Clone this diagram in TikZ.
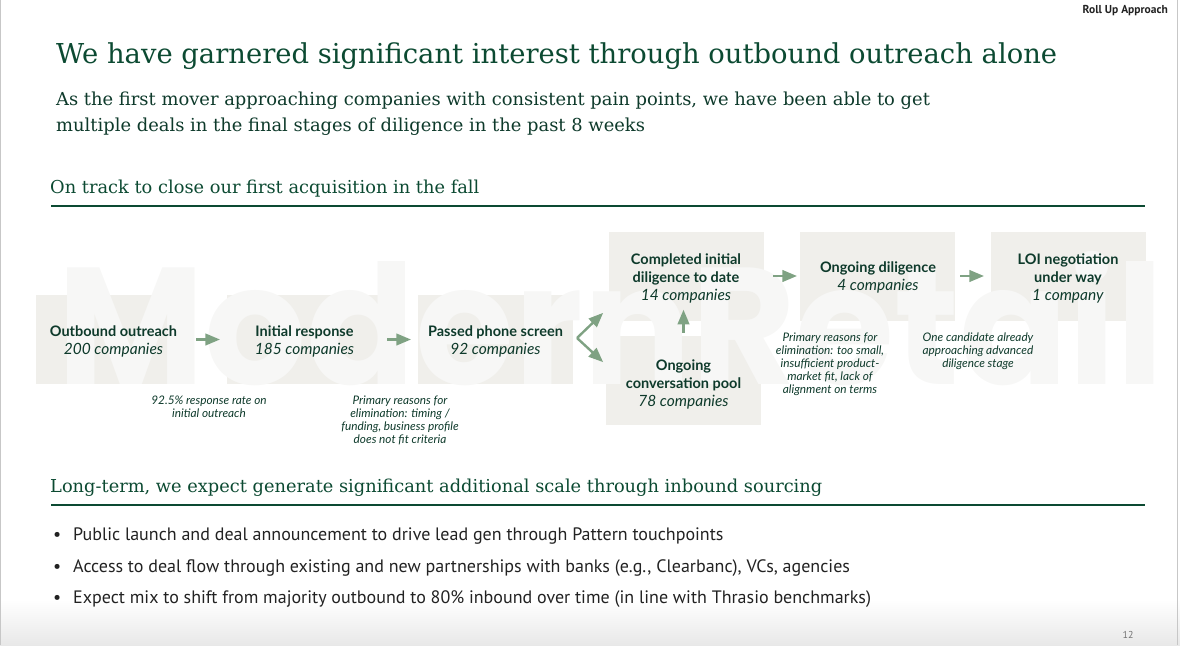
\documentclass[tikz,border=0pt]{standalone}
\usepackage{fontspec}
\setmainfont{DejaVu Serif}
\newfontfamily\flowfont{Lato}
\newfontfamily\bulletfont{PT Sans}
\newfontfamily\wmfont{Poppins}
\usetikzlibrary{arrows}
\definecolor{deepgreen}{HTML}{0C4A32}
\definecolor{inkgreen}{HTML}{0E3A2B}
\definecolor{sage}{HTML}{7FA283}
\definecolor{boxfill}{HTML}{F0EFEB}
\definecolor{wmgray}{HTML}{F7F7F6}
\definecolor{ink}{HTML}{222222}

\begin{document}
\begin{tikzpicture}[x=1pt,y=-1pt,
  stagebox/.style={fill=boxfill,minimum width=155pt,minimum height=89pt,inner sep=0pt},
  stage/.style={align=center,text=inkgreen,inner sep=0pt,font=\flowfont\fontsize{14.5}{18}\selectfont},
  note/.style={align=center,text=inkgreen,inner sep=0pt,anchor=north,font=\flowfont\itshape\fontsize{11.8}{12.8}\selectfont},
  flow/.style={draw=sage,line width=2.4pt,-triangle 45,shorten <=5pt,shorten >=7pt},
  rule/.style={draw=deepgreen,line width=1.3pt},
  bullet/.style={anchor=base west,inner sep=0pt,text=ink,font=\bulletfont\fontsize{18}{20}\selectfont}]
\useasboundingbox (0,0) rectangle (1180,645);
\shade[top color=white,bottom color=black!9] (0,600) rectangle (1180,645);
\draw[black!22,line width=0.8pt] (0.5,0) -- (0.5,645) (1177,0) -- (1177,645);

% header
\node[anchor=base east,inner sep=0pt,text=ink,font=\bulletfont\bfseries\fontsize{11.5}{13}\selectfont] (tag) at (1168,13) {Roll Up Approach};
\node[anchor=base west,inner sep=0pt,text=deepgreen,font=\fontsize{27.4}{33}\selectfont] (title) at (56,63)
  {We have garnered significant interest through outbound outreach alone};
\node[anchor=north west,inner sep=0pt,align=left,text=inkgreen,font=\fontsize{17.9}{26.5}\selectfont] (sub) at (56,91.5)
  {As the first mover approaching companies with consistent pain points, we have been able to get\\
   multiple deals in the final stages of diligence in the past 8 weeks};
\node[anchor=base west,inner sep=0pt,text=deepgreen,font=\fontsize{17.8}{22}\selectfont] (track) at (50,193)
  {On track to close our first acquisition in the fall};
\draw[rule] (51,206) -- (1145,206);

% funnel boxes
\node[stagebox] (outbox) at (113.5,339.5) {};
\node[stagebox] (respbox) at (304.5,339.5) {};
\node[stagebox] (phonebox) at (495.5,339.5) {};
\node[stagebox] (donebox) at (686.5,276) {};
\node[stagebox] (poolbox) at (683.5,380.5) {};
\node[stagebox] (ddbox) at (877.5,276) {};
\node[stagebox] (loibox) at (1068.5,276) {};
\node[anchor=south west,inner sep=0pt,text=wmgray] (mark) at (57,386)
  {\resizebox{1105pt}{133pt}{\wmfont\bfseries ModernRetail}};

\node[stage] (outbound) at (113.5,341) {\textbf{Outbound outreach}\\\textit{\fontsize{15.5}{18}\selectfont 200 companies}};
\node[stage] (resp) at (304.5,341) {\textbf{Initial response}\\\textit{\fontsize{15.5}{18}\selectfont 185 companies}};
\node[stage] (phone) at (495.5,341) {\textbf{Passed phone screen}\\\textit{\fontsize{15.5}{18}\selectfont 92 companies}};
\node[stage] (done) at (686,278) {\textbf{Completed initial}\\\textbf{diligence to date}\\\textit{\fontsize{15.5}{18}\selectfont 14 companies}};
\node[stage] (pool) at (683.5,384) {\textbf{Ongoing}\\\textbf{conversation pool}\\\textit{\fontsize{15.5}{18}\selectfont 78 companies}};
\node[stage] (dd) at (878,277) {\textbf{Ongoing diligence}\\\textit{\fontsize{15.5}{18}\selectfont 4 companies}};
\node[stage] (loi) at (1068,278) {\textbf{LOI negotiation}\\\textbf{under way}\\\textit{\fontsize{15.5}{18}\selectfont 1 company}};

\node[note] (rate) at (209,396) {92.5\% response rate on\\initial outreach};
\node[note] (drop) at (400,396) {Primary reasons for\\elimination: timing /\\funding, business profile\\does not fit criteria};
\node[note] (cut) at (830,333) {Primary reasons for\\elimination: too small,\\insufficient product-\\market fit, lack of\\alignment on terms};
\node[note] (adv) at (978,333) {One candidate already\\approaching advanced\\diligence stage};

% arrows
\coordinate (fork) at (577,338);
\coordinate (forkup) at (603,313);
\coordinate (forkdown) at (603,362);
\draw[flow] (outbox.east) -- (respbox.west);
\draw[flow] (respbox.east) -- (phonebox.west);
\draw[flow,shorten <=0pt,shorten >=0pt] (fork) -- (forkup);
\draw[flow,shorten <=0pt,shorten >=0pt] (fork) -- (forkdown);
\draw[flow,shorten <=3pt] (poolbox.north) -- (poolbox.north |- done.south);
\draw[flow,shorten <=9pt,shorten >=3pt] (donebox.east) -- (ddbox.west);
\draw[flow] (ddbox.east) -- (loibox.west);

% inbound
\node[anchor=base west,inner sep=0pt,text=deepgreen,font=\fontsize{17.8}{22}\selectfont] (inbound) at (50,492)
  {Long-term, we expect generate significant additional scale through inbound sourcing};
\draw[rule] (51,505) -- (1145,505);
\foreach \name/\y/\txt in {lead/540/Public launch and deal announcement to drive lead gen through Pattern touchpoints,
    banks/572/{Access to deal flow through existing and new partnerships with banks (e.g., Clearbanc), VCs, agencies},
    mix/603/Expect mix to shift from majority outbound to 80\% inbound over time (in line with Thrasio benchmarks)}{
  \node[bullet] (dot\name) at (53,\y) {\textbullet};
  \node[bullet] (\name) at (73,\y) {\txt};
}
\node[anchor=base,inner sep=0pt,text=black!55,font=\bulletfont\fontsize{10}{12}\selectfont] (page) at (1128,638) {12};
\end{tikzpicture}
\end{document}
